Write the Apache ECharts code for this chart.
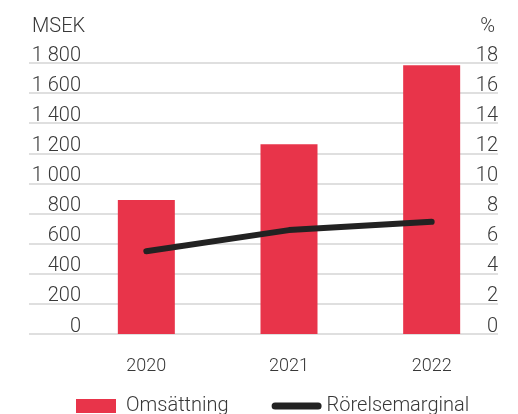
<!DOCTYPE html>
<html>
<head>
<meta charset="utf-8">
<script src="https://cdn.jsdelivr.net/npm/echarts@6/dist/echarts.min.js"></script>
<style>
	html,body{margin:0;padding:0;background:#fff;}
	#chart{width:518px;height:414px;}
</style>
</head>
<body>
<div id="chart"></div>
<script>
var years=['2020','2021','2022'];
var omsattning=[890,1260,1785];
var rorelsemarginal=[5.5,6.9,7.45];
var msekTicks=[0,200,400,600,800,1000,1200,1400,1600,1800];

var textColor='#383838';
var font='Roboto';

function fmt(v){
	// 1800 -> "1 800"
	return String(v).replace(/\B(?=(\d{3})+(?!\d))/g,' ');
}

// legend icons, aspect kept inside a 50x14 box
var barIcon='path://M0,0L40,0L40,14L0,14Z';
var lineIcon='path://M3.5,0L46.5,0A3.5,3.5,0,0,1,46.5,7L3.5,7A3.5,3.5,0,0,1,3.5,0Z';

var echart=echarts.init(document.getElementById('chart'));
var option={
	animation:false,
	textStyle:{fontFamily:font,fontWeight:300,color:textColor},
	title:[
		{text:'MSEK',left:27,top:12,textStyle:{fontFamily:font,fontWeight:300,fontSize:20,color:textColor}},
		{text:'%',right:18,top:12,textStyle:{fontFamily:font,fontWeight:300,fontSize:20,color:textColor}}
	],
	legend:{
		bottom:-7,
		left:71,
		itemGap:43,
		itemWidth:50,
		itemHeight:14,
		symbolKeepAspect:true,
		textStyle:{fontFamily:font,fontWeight:300,fontSize:20,color:textColor},
		data:[
			{name:'Omsättning',icon:barIcon},
			{name:'Rörelsemarginal',icon:lineIcon,itemStyle:{color:'#222'}}
		]
	},
	grid:[
		{left:75,right:15,top:63,bottom:80},
		{left:29,right:20,top:63,bottom:80}
	],
	xAxis:[
		{
			type:'category',gridIndex:0,data:years,
			axisLine:{show:false},axisTick:{show:false},
			axisLabel:{margin:23,fontSize:18,fontFamily:font,fontWeight:300,color:textColor}
		},
		{type:'category',gridIndex:1,data:years,show:false}
	],
	yAxis:[
		{type:'value',gridIndex:0,min:0,max:1800,interval:200,show:false},
		{type:'value',gridIndex:0,min:0,max:18,interval:2,show:false},
		{
			type:'value',gridIndex:1,min:0,max:msekTicks[msekTicks.length-1],interval:200,
			axisLine:{show:false},axisTick:{show:false},
			splitLine:{lineStyle:{color:'#d4d4d4',width:1.5}},
			axisLabel:{inside:true,margin:52,align:'right',verticalAlign:'bottom',lineHeight:15,
				fontSize:20,fontFamily:font,fontWeight:300,color:textColor,formatter:fmt}
		},
		{
			type:'value',gridIndex:1,position:'right',min:0,max:18,interval:2,
			axisLine:{show:false},axisTick:{show:false},splitLine:{show:false},
			axisLabel:{inside:true,margin:0,align:'right',verticalAlign:'bottom',lineHeight:15,
				fontSize:20,fontFamily:font,fontWeight:300,color:textColor}
		}
	],
	series:[
		{
			name:'Omsättning',type:'bar',xAxisIndex:0,yAxisIndex:0,
			data:omsattning,barWidth:57,
			itemStyle:{color:'#e8344a'}
		},
		{
			name:'Rörelsemarginal',type:'line',xAxisIndex:0,yAxisIndex:1,
			data:rorelsemarginal,symbol:'none',
			lineStyle:{color:'#222',width:6,cap:'round',join:'round'},
			itemStyle:{color:'#222'}
		}
	]
};
echart.setOption(option);
</script>
</body>
</html>
